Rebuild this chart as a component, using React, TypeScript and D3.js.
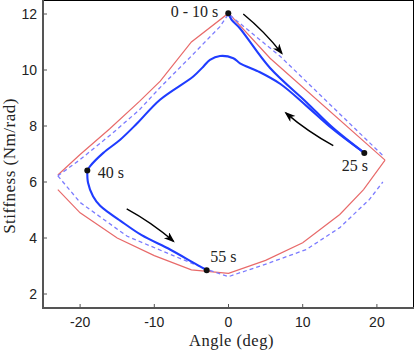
import React from "react";
import * as d3 from "d3";

// ---- data (degrees, Nm/rad) ----
const redUpperX = [-23, -20, -16, -12, -9.2, -5, 0, 5.6, 21.1];
const redUpperY = [6.25, 6.98, 7.9, 8.88, 9.6, 11.0, 12.03, 10.42, 6.78];
const redLowerX = [-23, -20, -15, -10, -5, 0, 5, 10, 15, 18.2, 21.1];
const redLowerY = [5.73, 4.9, 4.0, 3.37, 2.86, 2.74, 3.2, 3.83, 4.84, 5.73, 6.78];

const dashUpperX = [-23, -20, -15.6, -12, -9.2, -5, -1.15, 0, 7, 20.9];
const dashUpperY = [6.22, 6.8, 7.75, 8.58, 9.38, 10.5, 11.55, 12.0, 10.48, 6.92];
const dashLowerX = [-23, -20, -13.7, -7.9, -2.9, 0, 5.6, 10.5, 15, 19, 20.8];
const dashLowerY = [6.22, 5.27, 4.07, 3.42, 2.88, 2.62, 3.12, 3.59, 4.37, 5.38, 6.0];

const outX = [-0.03, 0.4, 1.5, 5.6, 10.5, 14, 18.3];
const outY = [12.03, 11.8, 11.5, 10.07, 8.85, 7.95, 7.04];
const retX = [18.3, 14, 10.5, 7, 4, 1.55, 0.65, -1.15, -2.5, -3.4, -4.75, -9.23, -12.37, -14.6, -16.87, -18.67, -19.03];
const retY = [7.04, 7.9, 8.72, 9.5, 9.95, 10.24, 10.42, 10.5, 10.36, 10.12, 9.77, 8.94, 8.08, 7.51, 7.04, 6.56, 6.41];
const downX = [-19.03, -18.93, -18.26, -17.3, -16, -14.6, -11.7, -7.88, -4.74, -2.94];
const downY = [6.41, 5.97, 5.49, 5.15, 4.88, 4.62, 4.1, 3.59, 3.12, 2.85];

const markerLabels = ["0 - 10 s", "25 s", "40 s", "55 s"];
const markerX = [-0.03, 18.3, -19.03, -2.94];
const markerY = [12.03, 7.04, 6.41, 2.85];

const arrowFromX = [1.99, 14.12, -13.72];
const arrowFromY = [12.0, 7.3, 5.04];
const arrowToX = [7.17, 7.75, -7.44];
const arrowToY = [10.6, 8.46, 3.89];

const xTicks = [-20, -10, 0, 10, 20];
const yTicks = [2, 4, 6, 8, 10, 12];

const W = 415;
const H = 351;
const L = 43, R = 414, T = 0, B = 308;

const zip = (xs: number[], ys: number[]) => xs.map((x, i) => [x, ys[i]] as [number, number]);

export default function App() {
  const x = d3.scaleLinear().domain([-25, 25]).range([L, R]);
  const y = d3.scaleLinear().domain([1.5, 12.5]).range([B, T]);
  const lin = d3.line<[number, number]>().x(d => x(d[0])).y(d => y(d[1]));
  const smooth = d3
    .line<[number, number]>()
    .x(d => x(d[0]))
    .y(d => y(d[1]))
    .curve(d3.curveCatmullRom.alpha(0.5));

  const labelOffsets: [number, number, string][] = [
    [-10, 4, "end"],
    [-9.5, 18.5, "middle"],
    [10.5, 7.5, "start"],
    [3.5, -8.5, "start"],
  ];

  const arrowPath = (i: number) => {
    const x0 = x(arrowFromX[i]), y0 = y(arrowFromY[i]);
    const x1 = x(arrowToX[i]), y1 = y(arrowToY[i]);
    const mx = (x0 + x1) / 2, my = (y0 + y1) / 2;
    const dx = x1 - x0, dy = y1 - y0;
    const len = Math.hypot(dx, dy);
    const bend = 3;
    const cx = mx + (dy / len) * bend;
    const cy = my - (dx / len) * bend;
    return `M${x0},${y0} Q${cx},${cy} ${x1},${y1}`;
  };

  return (
    <svg
      width={W}
      height={H}
      style={{ position: "absolute", left: 0, top: 0, background: "#fff" }}
    >
      <defs>
        <marker
          id="ah"
          markerUnits="userSpaceOnUse"
          markerWidth={12}
          markerHeight={10}
          refX={9}
          refY={4}
          orient="auto"
        >
          <path d="M0,0 L11,4 L0,8 L3,4 Z" fill="#000" />
        </marker>
      </defs>
      <rect x={0} y={0} width={W} height={H} fill="#fff" />

      {/* frame top/right */}
      <line x1={L} x2={R} y1={T + 0.5} y2={T + 0.5} stroke="#000" strokeWidth={1} />
      <line x1={R - 0.5} x2={R - 0.5} y1={T} y2={B} stroke="#000" strokeWidth={1} />

      {/* curves */}
      <path d={lin(zip(redUpperX, redUpperY)) || ""} fill="none" stroke="#e86a6a" strokeWidth={1.2} />
      <path d={lin(zip(redLowerX, redLowerY)) || ""} fill="none" stroke="#e86a6a" strokeWidth={1.2} />
      <path d={lin(zip(dashUpperX, dashUpperY)) || ""} fill="none" stroke="#7b7bff" strokeWidth={1.3} strokeDasharray="4,3" />
      <path d={lin(zip(dashLowerX, dashLowerY)) || ""} fill="none" stroke="#7b7bff" strokeWidth={1.3} strokeDasharray="4,3" />

      <path d={smooth(zip(outX, outY)) || ""} fill="none" stroke="#1f3cff" strokeWidth={2.1} strokeLinejoin="round" />
      <path d={smooth(zip(retX, retY)) || ""} fill="none" stroke="#1f3cff" strokeWidth={2.1} strokeLinejoin="round" />
      <path d={smooth(zip(downX, downY)) || ""} fill="none" stroke="#1f3cff" strokeWidth={2.1} strokeLinejoin="round" />

      {/* arrows */}
      {arrowFromX.map((_, i) => (
        <path key={"a" + i} d={arrowPath(i)} fill="none" stroke="#000" strokeWidth={1.4} markerEnd="url(#ah)" />
      ))}

      {/* markers */}
      {markerX.map((mx, i) => (
        <g key={"m" + i}>
          <circle cx={x(mx)} cy={y(markerY[i])} r={3} fill="#111" />
          <text
            x={x(mx) + labelOffsets[i][0]}
            y={y(markerY[i]) + labelOffsets[i][1]}
            textAnchor={labelOffsets[i][2] as any}
            fontFamily="'Liberation Serif', serif"
            fontSize={16}
            fill="#222"
          >
            {markerLabels[i]}
          </text>
        </g>
      ))}

      {/* axes */}
      <line x1={L} x2={L} y1={T} y2={B + 1} stroke="#555" strokeWidth={2} />
      <line x1={L - 1} x2={R} y1={B} y2={B} stroke="#555" strokeWidth={2} />
      {xTicks.map(t => (
        <g key={"x" + t}>
          <line x1={x(t)} x2={x(t)} y1={B} y2={B - 4} stroke="#555" strokeWidth={1} />
          <text x={x(t)} y={B + 19} textAnchor="middle" fontFamily="'Liberation Sans', Arial, sans-serif" fontSize={14} fill="#222">
            {t}
          </text>
        </g>
      ))}
      {yTicks.map(t => (
        <g key={"y" + t}>
          <line x1={L} x2={L + 4} y1={y(t)} y2={y(t)} stroke="#555" strokeWidth={1} />
          <text x={L - 6} y={y(t) + 5} textAnchor="end" fontFamily="'Liberation Sans', Arial, sans-serif" fontSize={14} fill="#222">
            {t}
          </text>
        </g>
      ))}

      <text x={(L + R) / 2 + 3} y={346} textAnchor="middle" fontFamily="'Liberation Serif', serif" fontSize={16.5} fill="#222" letterSpacing={0.5}>
        Angle (deg)
      </text>
      <text
        transform={`translate(15, ${(T + B) / 2 + 12}) rotate(-90)`}
        textAnchor="middle"
        fontFamily="'Liberation Serif', serif"
        fontSize={17}
        fill="#222"
        letterSpacing={0.5}
      >
        Stiffness (Nm/rad)
      </text>
    </svg>
  );
}
